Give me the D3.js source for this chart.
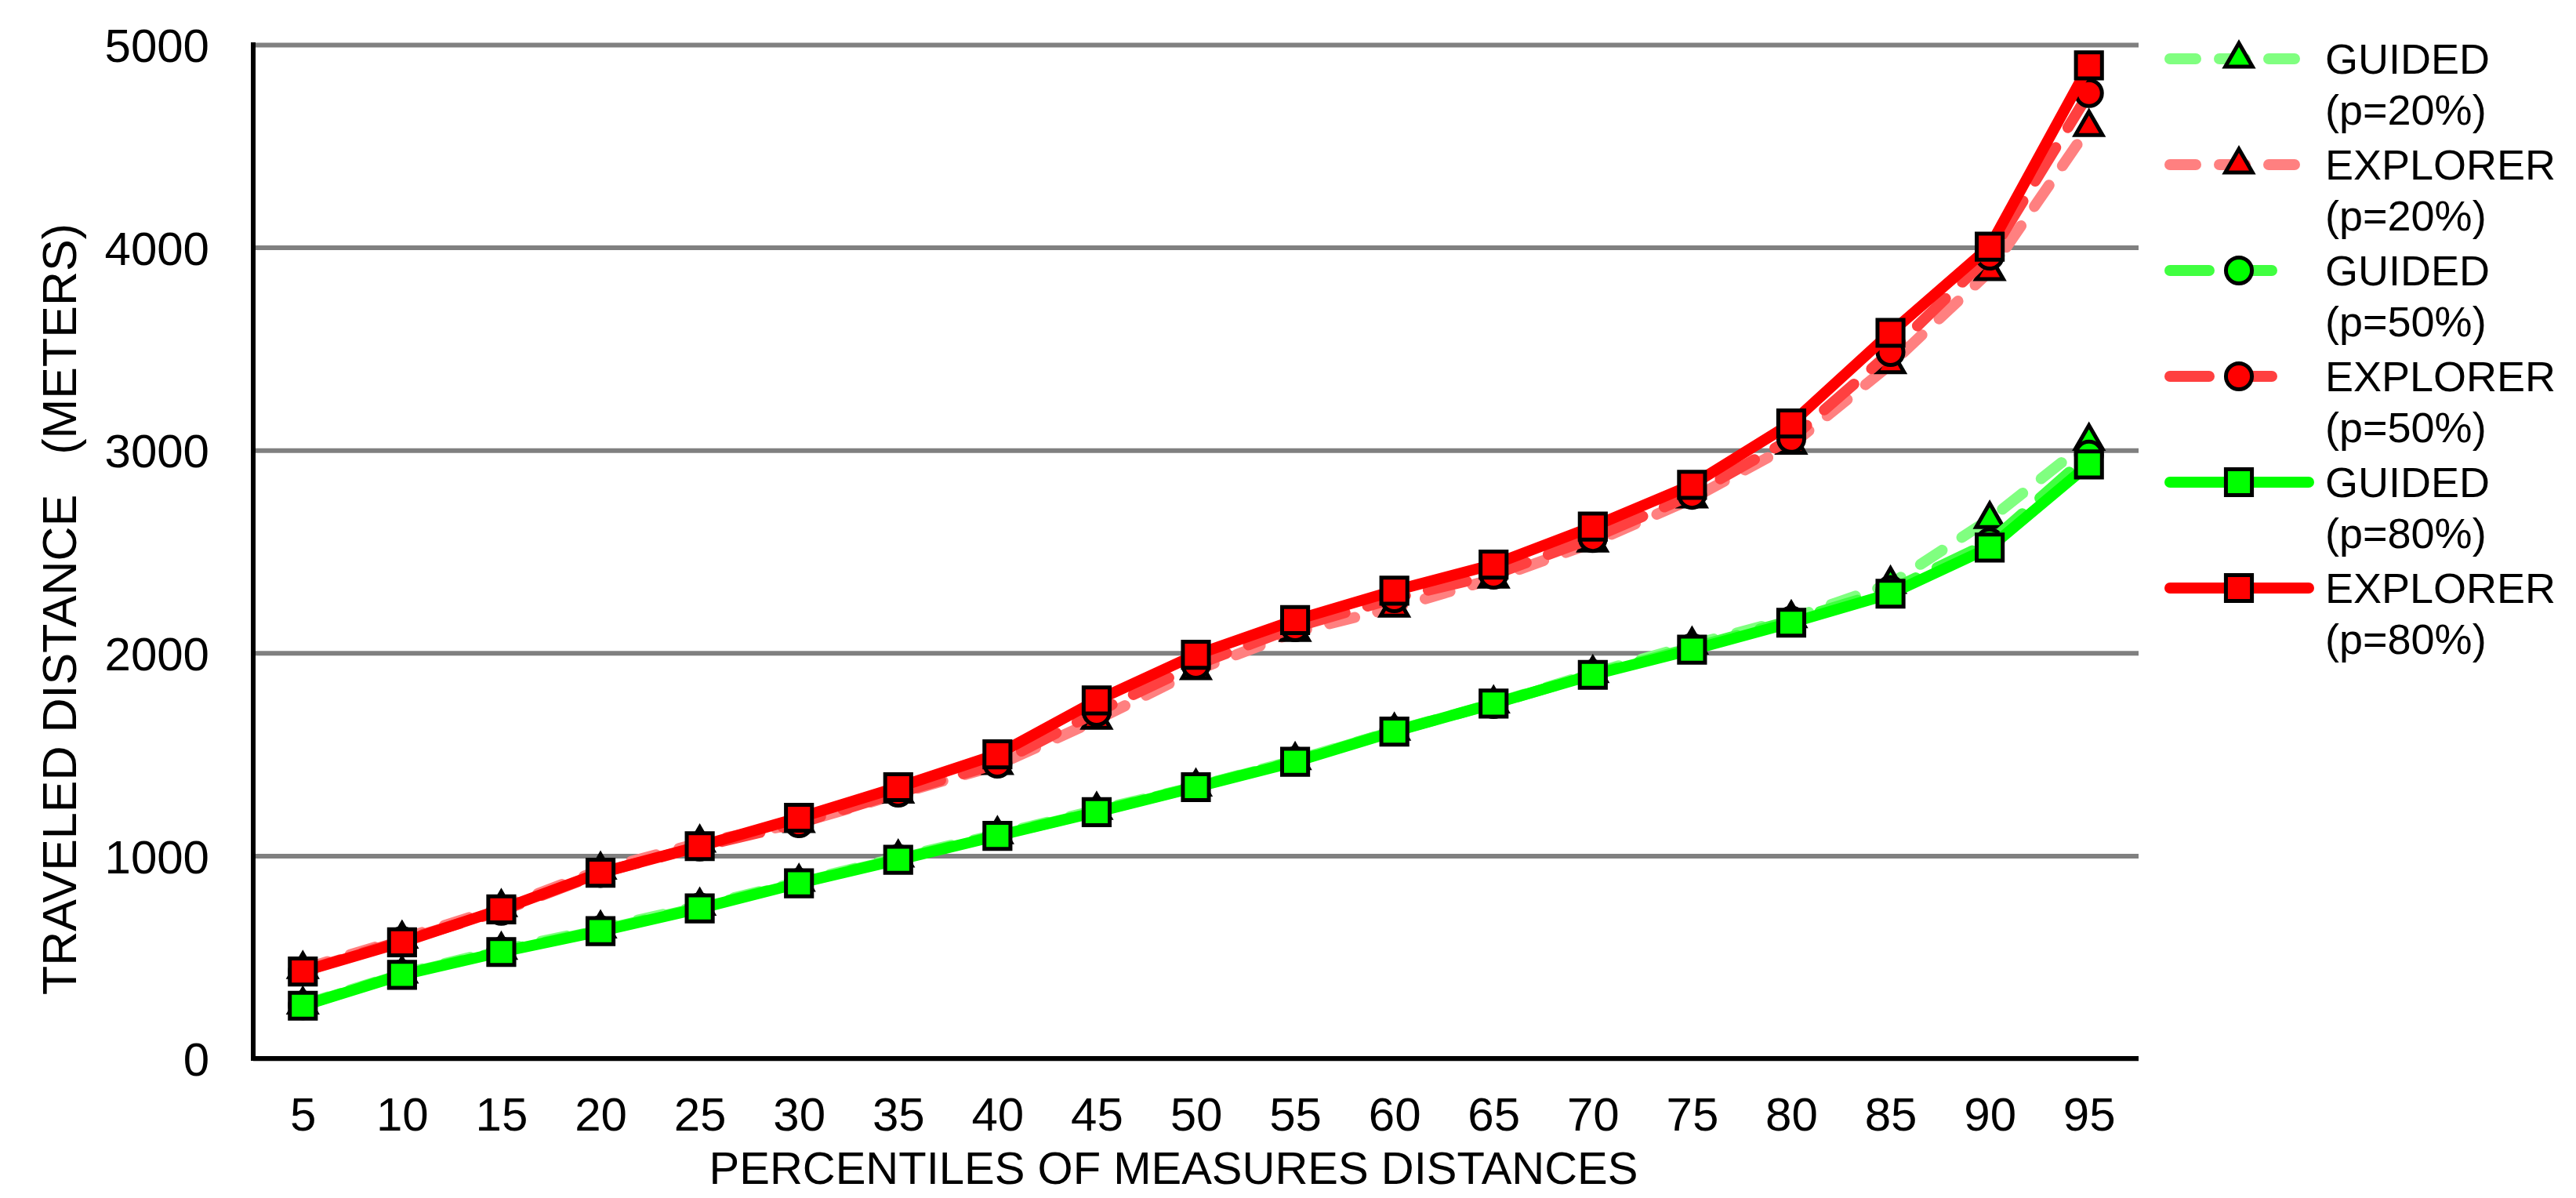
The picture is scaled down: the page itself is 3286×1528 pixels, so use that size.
<!DOCTYPE html>
<html lang="en">
<head>
<meta charset="utf-8">
<title>traveled distance</title>
<style>
	html, body { margin: 0; padding: 0; background: #fff; }
	svg text { font-family: "Liberation Sans", Arial, sans-serif; fill: #000; }
</style>
</head>
<body>
<script src="https://cdn.jsdelivr.net/npm/d3@7"></script>
<script>
	// percentiles on the x axis
	const percentiles = [5, 10, 15, 20, 25, 30, 35, 40, 45, 50, 55, 60, 65, 70, 75, 80, 85, 90, 95];
	const yTicks = [0, 1000, 2000, 3000, 4000, 5000];

	// series values (meters)
	const guided20 = [265, 418, 535, 640, 752, 870, 990, 1105, 1225, 1340, 1470, 1615, 1750, 1900, 2040, 2170, 2340, 2660, 3045];
	const explorer20 = [440, 590, 745, 930, 1063, 1160, 1305, 1446, 1670, 1914, 2103, 2223, 2366, 2544, 2761, 3026, 3423, 3882, 4593];
	const guided50 = [262, 415, 528, 632, 745, 866, 984, 1100, 1218, 1340, 1466, 1615, 1748, 1895, 2025, 2160, 2310, 2545, 2978];
	const explorer50 = [430, 580, 728, 915, 1045, 1160, 1311, 1454, 1709, 1941, 2127, 2270, 2386, 2567, 2780, 3056, 3484, 3960, 4761];
	const guided80 = [260, 412, 525, 628, 740, 864, 980, 1098, 1215, 1338, 1463, 1612, 1750, 1892, 2016, 2149, 2292, 2520, 2930];
	const explorer80 = [429, 573, 735, 916, 1047, 1187, 1338, 1500, 1766, 1991, 2162, 2307, 2436, 2623, 2829, 3132, 3579, 4004, 4898];

	const seriesNames = ["GUIDED", "EXPLORER", "GUIDED", "EXPLORER", "GUIDED", "EXPLORER"];
	const seriesP = ["(p=20%)", "(p=20%)", "(p=50%)", "(p=50%)", "(p=80%)", "(p=80%)"];

	const series = [
		{ values: guided20, line: "#80ff80", fill: "#00ff00", dash: "33,30", shape: d3.symbolTriangle },
		{ values: explorer20, line: "#ff8080", fill: "#ff0000", dash: "33,30", shape: d3.symbolTriangle },
		{ values: guided50, line: "#40ff40", fill: "#00ff00", dash: "50,30", shape: d3.symbolCircle },
		{ values: explorer50, line: "#ff4040", fill: "#ff0000", dash: "50,30", shape: d3.symbolCircle },
		{ values: guided80, line: "#00ff00", fill: "#00ff00", dash: null, shape: d3.symbolSquare },
		{ values: explorer80, line: "#ff0000", fill: "#ff0000", dash: null, shape: d3.symbolSquare },
	];
	series.forEach((s, i) => { s.name = seriesNames[i]; s.p = seriesP[i]; });

	const W = 3286, H = 1528;
	const plotL = 323, plotR = 2728, plotT = 57, plotB = 1350;

	const svg = d3.select("body").append("svg")
		.attr("width", W)
		.attr("height", H);

	const x = d3.scalePoint()
		.domain(percentiles)
		.range([plotL, plotR])
		.padding(0.5);

	const y = d3.scaleLinear()
		.domain([0, 5000])
		.range([plotB, plotT]);

	function sym(shape) {
		const size = shape === d3.symbolTriangle ? 520 : shape === d3.symbolCircle ? 860 : 1100;
		return d3.symbol().type(shape).size(size)();
	}

	// gridlines
	const grid = svg.append("g")
		.attr("transform", `translate(${plotL},0)`)
		.call(d3.axisLeft(y).tickValues(yTicks).tickSize(-(plotR - plotL)).tickFormat(""));
	grid.select(".domain").remove();
	grid.selectAll("line").attr("stroke", "#808080").attr("stroke-width", 6);

	// y tick labels
	const yAxis = svg.append("g")
		.attr("transform", `translate(${plotL},0)`)
		.call(d3.axisLeft(y).tickValues(yTicks).tickSize(0).tickPadding(56).tickFormat(d3.format("d")));
	yAxis.select(".domain").remove();
	yAxis.attr("font-family", null).attr("font-size", null);
	yAxis.selectAll("text")
		.attr("font-size", 60)
		.attr("dy", "0.36em");

	// x tick labels
	const xAxis = svg.append("g")
		.attr("transform", `translate(0,${plotB})`)
		.call(d3.axisBottom(x).tickSize(0));
	xAxis.select(".domain").remove();
	xAxis.attr("font-family", null).attr("font-size", null);
	xAxis.selectAll("text")
		.attr("font-size", 60)
		.attr("y", 92)
		.attr("dy", null);

	// axis lines
	svg.append("line")
		.attr("x1", plotL).attr("x2", plotL)
		.attr("y1", plotT - 3).attr("y2", plotB + 3)
		.attr("stroke", "#000").attr("stroke-width", 6);
	svg.append("line")
		.attr("x1", plotL - 3).attr("x2", plotR)
		.attr("y1", plotB).attr("y2", plotB)
		.attr("stroke", "#000").attr("stroke-width", 6);

	// lines + markers, later series on top
	const line = d3.line()
		.x((d, i) => x(percentiles[i]))
		.y(d => y(d));

	series.forEach(s => {
		const g = svg.append("g");
		g.append("path")
			.attr("d", line(s.values))
			.attr("fill", "none")
			.attr("stroke", s.line)
			.attr("stroke-width", 14)
			.attr("stroke-linejoin", "round")
			.attr("stroke-linecap", s.dash ? "round" : "butt")
			.attr("stroke-dasharray", s.dash);
		g.selectAll("path.mark")
			.data(s.values)
			.join("path")
			.attr("class", "mark")
			.attr("d", sym(s.shape))
			.attr("transform", (d, i) => `translate(${x(percentiles[i])},${y(d)})`)
			.attr("fill", s.fill)
			.attr("stroke", "#000")
			.attr("stroke-width", 5);
	});

	// legend
	const legend = svg.append("g");
	series.forEach((s, i) => {
		const ly = 75 + 135 * i;
		const row = legend.append("g");
		row.append("path")
			.attr("d", `M2768,${ly}H${s.dash ? 2928 : 2945}`)
			.attr("stroke", s.line)
			.attr("stroke-width", 14)
			.attr("stroke-linecap", "round")
			.attr("stroke-dasharray", s.dash);
		row.append("path")
			.attr("d", sym(s.shape))
			.attr("transform", `translate(2856,${ly})`)
			.attr("fill", s.fill)
			.attr("stroke", "#000")
			.attr("stroke-width", 5);
		const t = row.append("text")
			.attr("x", 2966)
			.attr("y", ly + 19)
			.attr("font-size", 54);
		t.append("tspan").attr("x", 2966).text(s.name);
		t.append("tspan").attr("x", 2966).attr("dy", 65).text(s.p);
	});

	// axis titles
	svg.append("text")
		.attr("transform", "translate(97,777) rotate(-90)")
		.attr("text-anchor", "middle")
		.attr("font-size", 61)
		.style("white-space", "pre")
		.text("TRAVELED DISTANCE   (METERS)");

	svg.append("text")
		.attr("x", 1497)
		.attr("y", 1510)
		.attr("text-anchor", "middle")
		.attr("font-size", 58)
		.text("PERCENTILES OF MEASURES DISTANCES");
</script>
</body>
</html>
